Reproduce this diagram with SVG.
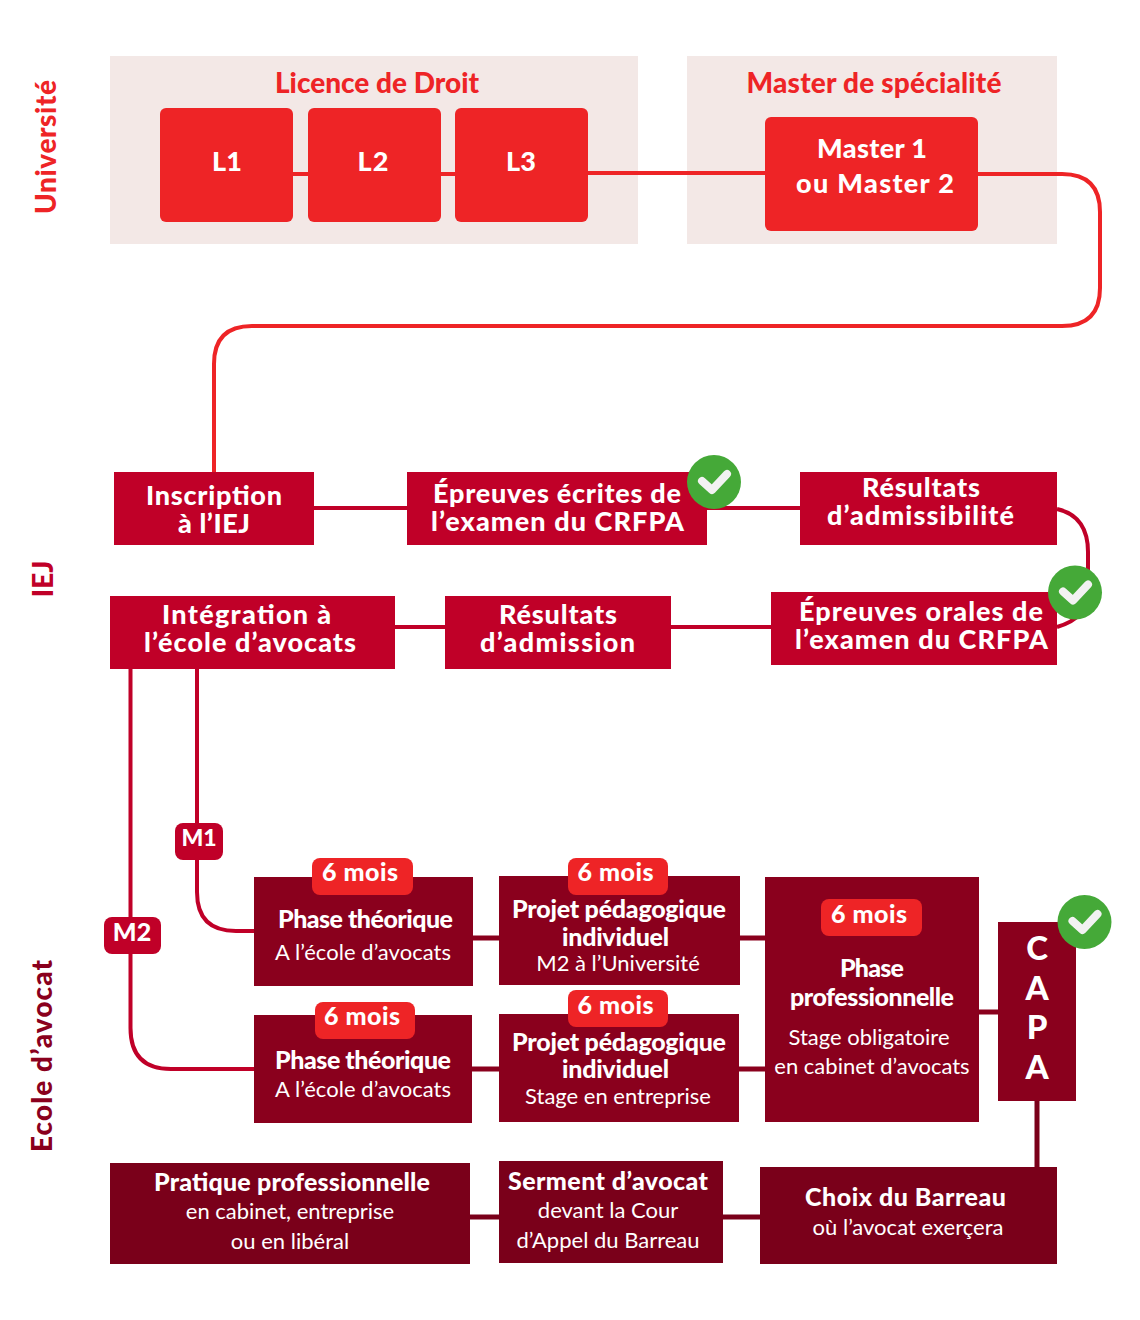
<svg xmlns="http://www.w3.org/2000/svg" width="1140" height="1320" viewBox="0 0 1140 1320">
<style>
text{font-family:"Lato","Liberation Sans",sans-serif;text-anchor:middle;fill:#fff}
.h{font-weight:900;font-size:27px}
.s{font-weight:400;font-size:22px}
.b{font-weight:900;font-size:25px}
.m{font-weight:900;font-size:25px}
.sec{font-weight:900;font-size:28px;fill:#ee2426}
.band{fill:#f3e8e6}
.red{fill:#ee2426}
.crim{fill:#c00028}
.dark{fill:#8a001d}
.deep{fill:#7a001a}
.l-red{fill:none;stroke:#ee2426;stroke-width:4}
.l-crim{fill:none;stroke:#c00028;stroke-width:4}
.l-dark{fill:none;stroke:#8a001d;stroke-width:5}
.l-deep{fill:none;stroke:#7a001a;stroke-width:5}
.green{fill:#45a938}
.tick{fill:none;stroke:#f2f2f2;stroke-width:8;stroke-linecap:round;stroke-linejoin:round}
</style>
<rect class="band" x="110" y="56" width="528" height="188"/>
<rect class="band" x="687" y="56" width="370" height="188"/>
<g id="connectors">
<path class="l-red" d="M293 174H308M440 174H455M588 173H766M978 174H1062Q1100 174 1100 212V288Q1100 326 1062 326H252Q214 326 214 364V472"/>
<path class="l-crim" d="M314 508H407M707 508H800M1057 509Q1088 516 1088 552V592Q1088 618 1057 627M395 627H445M671 627H771M130.500 669V1028Q130.500 1069 171 1069H254M197 669V892Q197 931 236 931H254"/>
<path class="l-dark" d="M473 938H499M740 938H765M471 1069H499M739 1069H765M979 1012H998"/>
<path class="l-deep" d="M470 1217H499M723 1217H760M1037 1101V1167"/>
</g>
<g id="universite-label"><text class="sec" textLength="134" transform="translate(56 147) rotate(-90)">Université</text></g>
<g id="iej-label"><text class="sec" style="fill:#c00028" transform="translate(53 579) rotate(-90)">IEJ</text></g>
<g id="ecole-label"><text class="sec" style="fill:#8a001d" textLength="192" transform="translate(52 1056) rotate(-90)">Ecole d’avocat</text></g>
<g id="licence"><text class="sec" x="377" y="93">Licence de Droit</text></g>
<g id="master-band"><text class="sec" x="874" y="93" textLength="255">Master de spécialité</text></g>
<g id="l1"><rect class="red" x="160" y="108" width="133" height="114" rx="6"/><text class="h" x="227" y="171">L1</text></g>
<g id="l2"><rect class="red" x="308" y="108" width="133" height="114" rx="6"/><text class="h" x="373" y="171" textLength="31">L2</text></g>
<g id="l3"><rect class="red" x="455" y="108" width="133" height="114" rx="6"/><text class="h" x="521" y="171">L3</text></g>
<g id="master"><rect class="red" x="765" y="117" width="213" height="114" rx="6"/><text class="h" x="872" y="158" textLength="110">Master 1</text><text class="h" x="875" y="193" textLength="158">ou Master 2</text></g>
<g id="inscription"><rect class="crim" x="114" y="472" width="200" height="73"/><text class="h" x="214" y="505" textLength="136">Inscription</text><text class="h" x="214" y="533" textLength="72">à l’IEJ</text></g>
<g id="ecrites"><rect class="crim" x="407" y="472" width="300" height="73"/><text class="h" x="557" y="503" textLength="248">Épreuves écrites de</text><text class="h" x="557.500" y="531" textLength="253">l’examen du CRFPA</text></g>
<g id="admissibilite"><rect class="crim" x="800" y="472" width="257" height="73"/><text class="h" x="921" y="497" textLength="118">Résultats</text><text class="h" x="920.500" y="525" textLength="187">d’admissibilité</text></g>
<g id="orales"><rect class="crim" x="771" y="592" width="286" height="73"/><text class="h" x="921" y="621" textLength="244">Épreuves orales de</text><text class="h" x="921.500" y="649" textLength="253">l’examen du CRFPA</text></g>
<g id="admission"><rect class="crim" x="445" y="596" width="226" height="73"/><text class="h" x="558" y="624" textLength="118">Résultats</text><text class="h" x="557.500" y="652" textLength="155">d’admission</text></g>
<g id="integration"><rect class="crim" x="110" y="596" width="285" height="73"/><text class="h" x="246.500" y="624" textLength="169">Intégration à</text><text class="h" x="250" y="652" textLength="212">l’école d’avocats</text></g>
<g id="m1"><rect class="crim" x="175" y="823" width="48" height="37" rx="8"/><text class="m" style="font-size:23px" x="199" y="846">M1</text></g>
<g id="m2"><rect class="crim" x="104" y="917" width="57" height="37" rx="8"/><text class="m" x="132" y="941">M2</text></g>
<g id="phase-m1"><rect class="dark" x="254" y="877" width="219" height="109"/><rect class="red" x="312" y="858" width="101" height="37" rx="8"/><text class="m" x="360" y="881" textLength="76">6 mois</text><text class="b" x="365.500" y="928" textLength="175">Phase théorique</text><text class="s" x="363" y="960" textLength="176">A l’école d’avocats</text></g>
<g id="projet-m1"><rect class="dark" x="499" y="876" width="241" height="109"/><rect class="red" x="568" y="858" width="100" height="37" rx="8"/><text class="m" x="615.500" y="881" textLength="76">6 mois</text><text class="b" x="619" y="918" textLength="214">Projet pédagogique</text><text class="b" x="615.500" y="946" textLength="107">individuel</text><text class="s" x="618" y="971">M2 à l’Université</text></g>
<g id="phase-m2"><rect class="dark" x="254" y="1015" width="218" height="108"/><rect class="red" x="315" y="1002" width="100" height="37" rx="8"/><text class="m" x="362" y="1025" textLength="76">6 mois</text><text class="b" x="363" y="1069" textLength="176">Phase théorique</text><text class="s" x="363" y="1097" textLength="176">A l’école d’avocats</text></g>
<g id="projet-m2"><rect class="dark" x="499" y="1014" width="240" height="108"/><rect class="red" x="568" y="990" width="100" height="37" rx="8"/><text class="m" x="615.500" y="1014" textLength="76">6 mois</text><text class="b" x="619" y="1051" textLength="214">Projet pédagogique</text><text class="b" x="615.500" y="1078" textLength="107">individuel</text><text class="s" x="618" y="1104">Stage en entreprise</text></g>
<g id="phase-pro"><rect class="dark" x="765" y="877" width="214" height="245"/><rect class="red" x="821" y="899" width="101" height="37" rx="8"/><text class="m" x="869" y="923" textLength="76">6 mois</text><text class="b" x="872" y="977" textLength="64">Phase</text><text class="b" x="872" y="1006" textLength="164">professionnelle</text><text class="s" x="869" y="1045">Stage obligatoire</text><text class="s" x="872" y="1074">en cabinet d’avocats</text></g>
<g id="capa"><rect class="dark" x="998" y="922" width="78" height="179"/><text class="h" style="font-size:33px" x="1037" y="960">C</text><text class="h" style="font-size:33px" x="1037" y="1000">A</text><text class="h" style="font-size:33px" x="1037" y="1039">P</text><text class="h" style="font-size:33px" x="1037" y="1079">A</text></g>
<g id="pratique"><rect class="deep" x="110" y="1163" width="360" height="101"/><text class="b" x="292" y="1191" textLength="276">Pratique professionnelle</text><text class="s" x="290" y="1219">en cabinet, entreprise</text><text class="s" x="290" y="1249">ou en libéral</text></g>
<g id="serment"><rect class="deep" x="499" y="1161" width="224" height="102"/><text class="b" x="608" y="1190" textLength="200">Serment d’avocat</text><text class="s" x="608" y="1218">devant la Cour</text><text class="s" x="608" y="1248">d’Appel du Barreau</text></g>
<g id="choix"><rect class="deep" x="760" y="1167" width="297" height="97"/><text class="b" x="905.500" y="1206" textLength="201">Choix du Barreau</text><text class="s" x="908" y="1235" textLength="191">où l’avocat exerçera</text></g>
<g id="check-1"><circle class="green" cx="714" cy="482" r="27"/><path class="tick" d="M702 481L712 490L727 474"/></g>
<g id="check-2"><circle class="green" cx="1075" cy="592.500" r="27"/><path class="tick" d="M1063 591.500L1073 600.500L1088 584.500"/></g>
<g id="check-3"><circle class="green" cx="1084.500" cy="922" r="27"/><path class="tick" d="M1072.500 921L1082.500 930L1097.500 914"/></g>
</svg>
